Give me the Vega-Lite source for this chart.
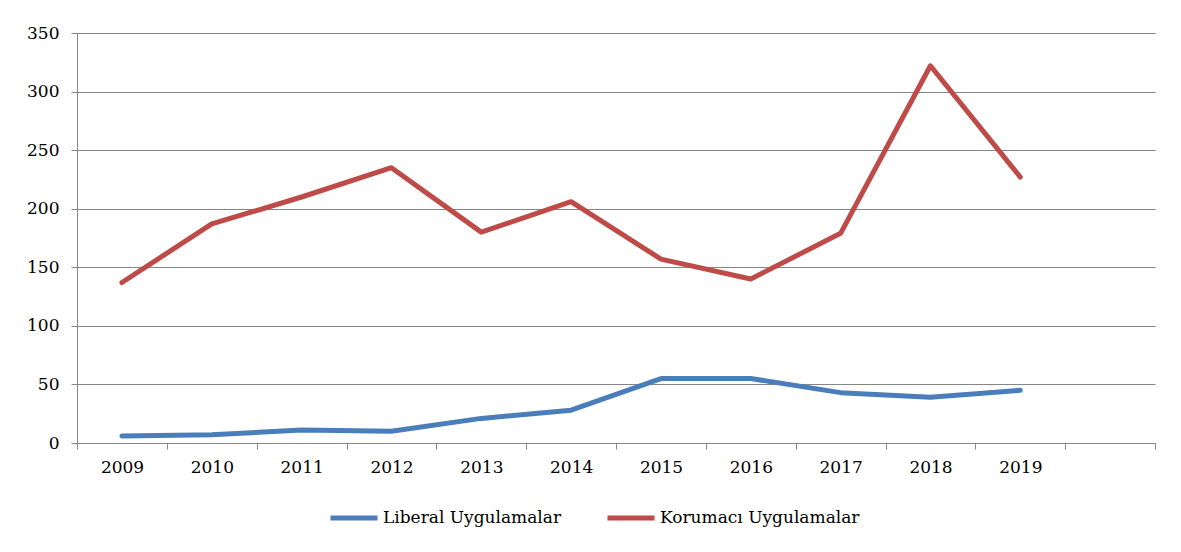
{
"$schema": "https://vega.github.io/schema/vega-lite/v6.json",
"width": 1078,
"height": 410,
"autosize": {"type": "none"},
"padding": {"left": 77, "top": 33, "right": 26, "bottom": 109},
"background": "white",
"config": {"font": "DejaVu Serif", "view": {"stroke": null}},
"data": {"values": [
{"year": 2009, "series": "Liberal Uygulamalar", "value": 6},
{"year": 2010, "series": "Liberal Uygulamalar", "value": 7},
{"year": 2011, "series": "Liberal Uygulamalar", "value": 11},
{"year": 2012, "series": "Liberal Uygulamalar", "value": 10},
{"year": 2013, "series": "Liberal Uygulamalar", "value": 21},
{"year": 2014, "series": "Liberal Uygulamalar", "value": 28},
{"year": 2015, "series": "Liberal Uygulamalar", "value": 55},
{"year": 2016, "series": "Liberal Uygulamalar", "value": 55},
{"year": 2017, "series": "Liberal Uygulamalar", "value": 43},
{"year": 2018, "series": "Liberal Uygulamalar", "value": 39},
{"year": 2019, "series": "Liberal Uygulamalar", "value": 45},
{"year": 2009, "series": "Korumacı Uygulamalar", "value": 137},
{"year": 2010, "series": "Korumacı Uygulamalar", "value": 187},
{"year": 2011, "series": "Korumacı Uygulamalar", "value": 210},
{"year": 2012, "series": "Korumacı Uygulamalar", "value": 235},
{"year": 2013, "series": "Korumacı Uygulamalar", "value": 180},
{"year": 2014, "series": "Korumacı Uygulamalar", "value": 206},
{"year": 2015, "series": "Korumacı Uygulamalar", "value": 157},
{"year": 2016, "series": "Korumacı Uygulamalar", "value": 140},
{"year": 2017, "series": "Korumacı Uygulamalar", "value": 179},
{"year": 2018, "series": "Korumacı Uygulamalar", "value": 322},
{"year": 2019, "series": "Korumacı Uygulamalar", "value": 227}
]},
"mark": {"type": "line", "strokeWidth": 5, "strokeCap": "round", "strokeJoin": "round"},
"encoding": {
"x": {"field": "year", "type": "quantitative",
 "scale": {"domain": [2008.5, 2020.5], "nice": false, "zero": false},
 "axis": {"values": [2008.5, 2009.5, 2010.5, 2011.5, 2012.5, 2013.5, 2014.5, 2015.5, 2016.5, 2017.5, 2018.5, 2019.5, 2020.5],
  "title": null, "grid": false, "domainColor": "#868686", "tickColor": "#868686", "tickSize": 6,
  "labelExpr": "datum.value > 2019 ? '' : toString(datum.value + 0.5)",
  "labelOffset": 45, "labelFontSize": 17, "labelColor": "black", "labelPadding": 10,
  "labelFlush": false, "labelOverlap": false, "labelBound": false}},
"y": {"field": "value", "type": "quantitative",
 "scale": {"domain": [0, 350], "nice": false},
 "axis": {"values": [0, 50, 100, 150, 200, 250, 300, 350], "title": null,
  "gridColor": "#868686", "domainColor": "#868686", "tickColor": "#868686", "tickSize": 6,
  "labelFontSize": 17, "labelPadding": 12, "labelColor": "black"}},
"color": {"field": "series", "type": "nominal",
 "scale": {"domain": ["Liberal Uygulamalar", "Korumacı Uygulamalar"], "range": ["#4a7ebb", "#be4b48"]},
 "legend": {"orient": "none", "legendX": 251, "legendY": 459, "direction": "horizontal", "title": null,
  "symbolType": "stroke", "symbolSize": 2209, "symbolStrokeWidth": 5,
  "labelFontSize": 17, "labelLimit": 400, "labelColor": "black", "labelOffset": 3, "columnPadding": 35}}
}
}
